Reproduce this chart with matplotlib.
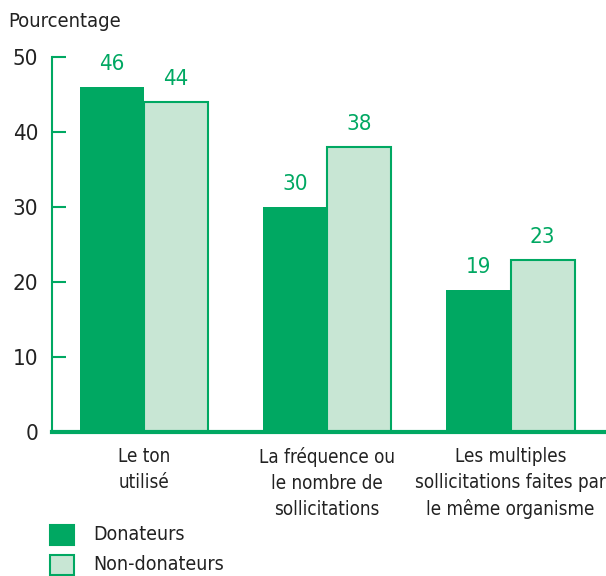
import matplotlib.pyplot as plt
import numpy as np
from matplotlib.patches import Rectangle

plt.rcParams['font.family'] = ['Liberation Sans Narrow', 'DejaVu Sans']
plt.rcParams['font.stretch'] = 'condensed'

categories = ["Le ton\nutilisé", "La fréquence ou\nle nombre de\nsollicitations",
              "Les multiples\nsollicitations faites par\nle même organisme"]
donateurs = [46, 30, 19]
non_donateurs = [44, 38, 23]
series_names = ["Donateurs", "Non-donateurs"]
yticks = [0, 10, 20, 30, 40, 50]

green = "#00a862"
light = "#c8e6d4"

fig = plt.figure(figsize=(6.06, 5.76), dpi=100)
ax = fig.add_axes([0.0858, 0.25, 0.911, 0.651])

x = np.arange(len(categories))
w = 0.35
ax.bar(x - w / 2, donateurs, w, color=green, edgecolor=green, linewidth=0)
ax.bar(x + w / 2, non_donateurs, w, color=light, edgecolor=green, linewidth=1.5)

for i in range(len(categories)):
    ax.text(x[i] - w / 2, donateurs[i] + 1.7, str(donateurs[i]), ha="center", va="bottom",
            color=green, fontsize=16)
    ax.text(x[i] + w / 2, non_donateurs[i] + 1.7, str(non_donateurs[i]), ha="center", va="bottom",
            color=green, fontsize=16)

ax.set_xlim(-0.5, 2.51)
ax.set_ylim(0, 50)
ax.set_yticks(yticks)
ax.set_xticks(x)
ax.set_xticklabels(categories, fontsize=13.5, color="#222222", linespacing=1.45)
ax.tick_params(axis="x", length=0, pad=11)
ax.tick_params(axis="y", direction="in", length=10, width=1.5, color=green,
               labelsize=16, labelcolor="#222222", pad=10)

for s in ["top", "right"]:
    ax.spines[s].set_visible(False)
ax.spines["left"].set_color(green)
ax.spines["left"].set_linewidth(1.5)
ax.spines["bottom"].set_color(green)
ax.spines["bottom"].set_linewidth(3)
ax.spines["bottom"].set_zorder(5)

fig.text(0.013, 0.963, "Pourcentage", fontsize=14.5, color="#222222", va="center")

# legend
for j, (name, fc) in enumerate(zip(series_names, [green, light])):
    y0 = 1 - (545 + 30 * j) / 576
    fig.patches.append(Rectangle((50 / 606, y0), 24 / 606, 20 / 576, transform=fig.transFigure,
                                 facecolor=fc, edgecolor=green, linewidth=1.5))
    fig.text(93 / 606, y0 + 10 / 576, name, fontsize=14, color="#222222", va="center")

fig.savefig("out.png", dpi=100)
